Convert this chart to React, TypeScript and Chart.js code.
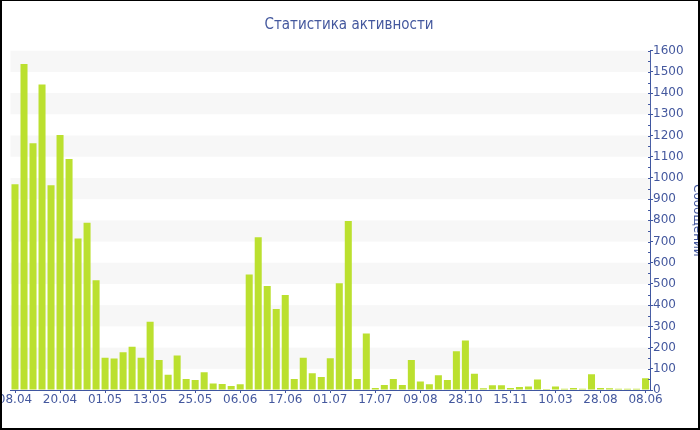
import { useEffect, useRef } from 'react';
import { Chart, registerables } from 'chart.js';

Chart.register(...registerables);

const tickLabels = ['08.04', '20.04', '01.05', '13.05', '25.05', '06.06', '17.06', '01.07', '17.07', '09.08', '28.10', '15.11', '10.03', '28.08', '08.06'];

const messages = [
  970, 1537, 1163, 1441, 965, 1202, 1089, 714, 789, 517,
  152, 148, 178, 204, 152, 322, 141, 72, 163, 52,
  47, 84, 31, 28, 19, 27, 545, 720, 490, 382,
  448, 52, 152, 79, 61, 150, 503, 797, 52, 267,
  9, 24, 52, 23, 141, 40, 27, 70, 47, 183,
  234, 77, 8, 22, 22, 10, 14, 16, 50, 5,
  17, 6, 9, 6, 74, 9, 8, 6, 6, 6,
  55,
];

const labelEvery = 5;
const categories = messages.map((_, i) => (i % labelEvery === 0 ? tickLabels[i / labelEvery] ?? '' : ''));

const yMax = 1600;
const yStep = 100;
const yMinorStep = 50;

const TEXT = '#44589e';
const AXIS = '#3f56a0';
const BAR = '#bbe02f';
const BAND = '#f7f7f7';

const SHIFT = 8;

const bandPlugin = {
  id: 'bands',
  beforeDatasetsDraw(chart: any) {
    const { ctx, chartArea: a, scales } = chart;
    const y = scales.y;
    ctx.save();
    ctx.fillStyle = BAND;
    for (let v = yStep; v < yMax; v += yStep * 2) {
      const t = y.getPixelForValue(v + yStep);
      const b = y.getPixelForValue(v);
      ctx.fillRect(a.left, t, a.right - a.left, b - t);
    }
    ctx.restore();
  },
  afterDraw(chart: any) {
    const { ctx, scales } = chart;
    const y = scales.y;
    ctx.save();
    ctx.strokeStyle = AXIS;
    ctx.lineWidth = 1;
    for (let v = 0; v <= yMax; v += yMinorStep) {
      const p = Math.round(y.getPixelForValue(v)) + 0.5;
      ctx.beginPath();
      ctx.moveTo(y.left - 2, p);
      ctx.lineTo(y.left, p);
      ctx.stroke();
    }
    ctx.restore();
  },
};

export default function App() {
  const ref = useRef<HTMLCanvasElement>(null);

  useEffect(() => {
    document.body.style.margin = '0';
    Chart.defaults.font.family = '"DejaVu Sans", Verdana, sans-serif';
    const chart = new Chart(ref.current!, {
      type: 'bar',
      data: {
        labels: categories,
        datasets: [
          {
            label: 'Сообщений',
            data: messages,
            backgroundColor: BAR,
            barPercentage: 0.78,
            categoryPercentage: 1,
          },
        ],
      },
      plugins: [bandPlugin],
      options: {
        animation: false,
        responsive: false,
        layout: { padding: { left: 0, right: 0, top: 0, bottom: 22.6 } },
        plugins: {
          legend: { display: false },
          tooltip: { enabled: false },
          title: {
            display: true,
            text: 'Статистика активности',
            color: TEXT,
            font: { size: 15, weight: 'normal', family: '"DejaVu Sans Condensed", "DejaVu Sans", sans-serif' },
            padding: { top: 16, bottom: 16.7 },
          },
        },
        scales: {
          x: {
            type: 'category',
            offset: true,
            grid: { display: true, drawOnChartArea: false, offset: false, tickLength: 3, color: AXIS },
            border: { display: true, color: AXIS },
            ticks: {
              autoSkip: false,
              maxRotation: 0,
              minRotation: 0,
              padding: 0,
              color: TEXT,
              font: { size: 12 },
              callback: (_v: any, i: number) => (categories[i] ? categories[i] : null),
            },
            afterFit: (s: any) => {
              s.paddingLeft = 10.5 + SHIFT;
              s.paddingRight = 0;
            },
          },
          y: {
            position: 'right',
            min: 0,
            max: yMax,
            grid: { drawOnChartArea: false, tickLength: 3, color: AXIS },
            border: { color: AXIS },
            ticks: {
              stepSize: yStep,
              padding: 0,
              color: TEXT,
              font: { size: 12 },
              callback: (v: any) => String(v),
            },
            title: {
              display: true,
              text: 'Сообщений',
              color: TEXT,
              font: { size: 12 },
              padding: { top: 2, bottom: 6 },
            },
          },
        },
      } as any,
    });
    return () => chart.destroy();
  }, []);

  return (
    <div style={{ position: 'relative', width: 700, height: 430, overflow: 'hidden', background: '#fff' }}>
      <canvas ref={ref} width={706 + SHIFT} height={430} style={{ position: 'absolute', left: -SHIFT, top: 0 }} />
      <div
        style={{
          position: 'absolute',
          left: 0,
          top: 0,
          width: 700,
          height: 430,
          boxSizing: 'border-box',
          borderStyle: 'solid',
          borderColor: '#000',
          borderWidth: '1px 2px 2px 2px',
          pointerEvents: 'none',
        }}
      />
    </div>
  );
}
